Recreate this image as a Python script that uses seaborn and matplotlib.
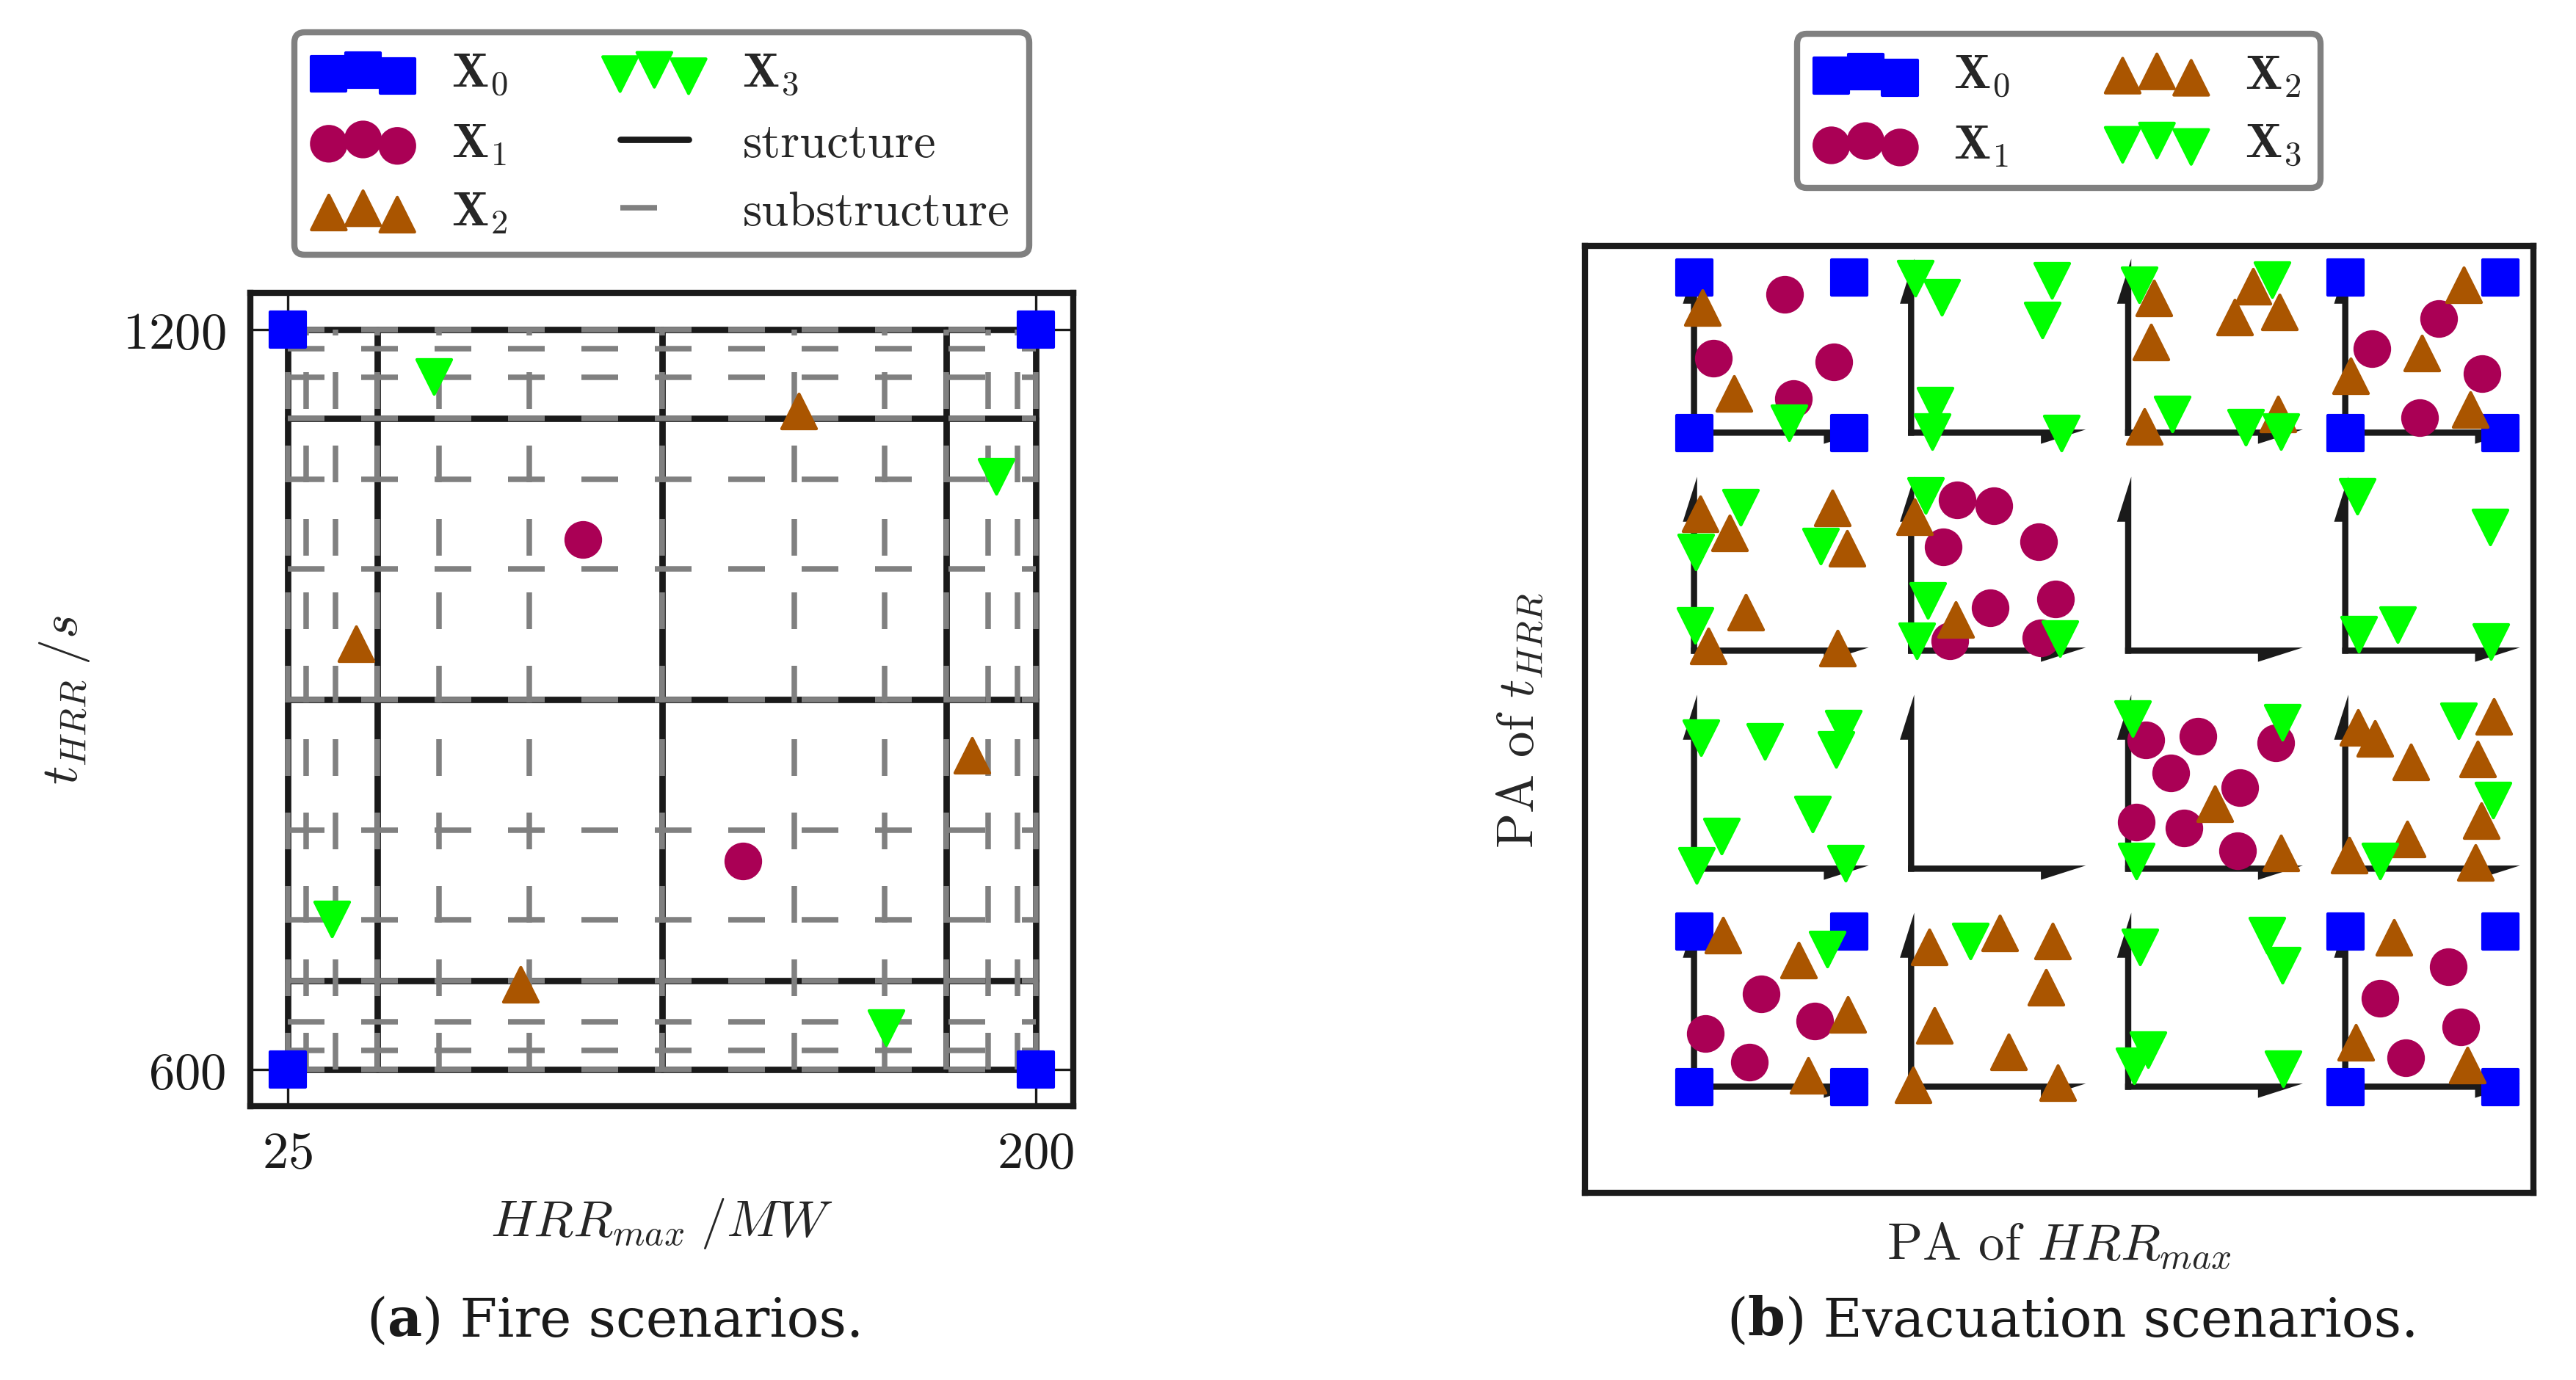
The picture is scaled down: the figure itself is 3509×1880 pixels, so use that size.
import numpy as np
import pandas as pd
import seaborn as sns
import matplotlib.pyplot as plt
from matplotlib.lines import Line2D
from matplotlib.patches import FancyArrow
from matplotlib.offsetbox import TextArea, HPacker, AnchoredOffsetbox

# ---- (a) fire scenarios ----
hrr_ticks = [25, 200]
thrr_ticks = [600, 1200]
struct_frac = [0.0, 0.12, 0.5, 0.88, 1.0]
sub_frac = [0.0, 0.025, 0.064, 0.12, 0.202, 0.323, 0.5, 0.677, 0.798, 0.88, 0.936, 0.975, 1.0]

fire_x0_hrr = [25, 25, 200, 200]
fire_x0_t = [600, 1200, 600, 1200]
fire_x1_hrr = [94.1, 131.4]
fire_x1_t = [1030, 769]
fire_x2_hrr = [144.6, 40.9, 185.0, 79.4]
fire_x2_t = [1134, 945, 855, 669]
fire_x3_hrr = [59.2, 190.8, 35.3, 165.0]
fire_x3_t = [1162, 1081, 722, 634]

# ---- (b) evacuation scenarios: (row, col, t_pre, N_tu) in each PA cell ----
ev_x0 = [(r, c, x, y) for r, c in [(0, 0), (0, 3), (3, 0), (3, 3)]
         for x, y in [(0, 0), (0, 1), (1, 0), (1, 1)]]
ev_x1 = [
    (0, 0, 0.582, 0.893), (0, 0, 0.124, 0.480), (0, 0, 0.901, 0.458), (0, 0, 0.639, 0.222),
    (0, 3, 0.171, 0.542), (0, 3, 0.601, 0.735), (0, 3, 0.884, 0.381), (0, 3, 0.479, 0.097),
    (1, 1, 0.297, 0.974), (1, 1, 0.534, 0.935), (1, 1, 0.207, 0.667), (1, 1, 0.823, 0.703),
    (1, 1, 0.930, 0.336), (1, 1, 0.510, 0.275), (1, 1, 0.249, 0.062), (1, 1, 0.835, 0.082),
    (2, 2, 0.112, 0.829), (2, 2, 0.449, 0.854), (2, 2, 0.952, 0.810), (2, 2, 0.276, 0.619),
    (2, 2, 0.721, 0.525), (2, 2, 0.053, 0.300), (2, 2, 0.357, 0.263), (2, 2, 0.707, 0.117),
    (3, 0, 0.433, 0.600), (3, 0, 0.776, 0.423), (3, 0, 0.074, 0.344), (3, 0, 0.356, 0.160),
    (3, 3, 0.665, 0.773), (3, 3, 0.221, 0.571), (3, 3, 0.743, 0.387), (3, 3, 0.388, 0.187),
]
ev_x2 = [
    (0, 0, 0.053, 0.804), (0, 0, 0.259, 0.254),
    (0, 2, 0.167, 0.867), (0, 2, 0.148, 0.583), (0, 2, 0.804, 0.942), (0, 2, 0.688, 0.744),
    (0, 2, 0.975, 0.778), (0, 2, 0.101, 0.039), (0, 2, 0.966, 0.120),
    (0, 3, 0.764, 0.951), (0, 3, 0.492, 0.512), (0, 3, 0.034, 0.368), (0, 3, 0.808, 0.148),
    (1, 0, 0.040, 0.884), (1, 0, 0.230, 0.757), (1, 0, 0.894, 0.920), (1, 0, 0.987, 0.658),
    (1, 0, 0.335, 0.249), (1, 0, 0.091, 0.032), (1, 0, 0.924, 0.019),
    (1, 1, 0.021, 0.864), (1, 1, 0.287, 0.202),
    (2, 2, 0.557, 0.419), (2, 2, 0.985, 0.104),
    (2, 3, 0.080, 0.910), (2, 3, 0.190, 0.837), (2, 3, 0.420, 0.688), (2, 3, 0.958, 0.983),
    (2, 3, 0.854, 0.706), (2, 3, 0.875, 0.310), (2, 3, 0.397, 0.192), (2, 3, 0.023, 0.090),
    (2, 3, 0.840, 0.042),
    (3, 0, 0.184, 0.975), (3, 0, 0.675, 0.817), (3, 0, 0.991, 0.467), (3, 0, 0.734, 0.075),
    (3, 1, 0.116, 0.902), (3, 1, 0.570, 0.990), (3, 1, 0.911, 0.938), (3, 1, 0.869, 0.642),
    (3, 1, 0.148, 0.396), (3, 1, 0.629, 0.225), (3, 1, 0.011, 0.012), (3, 1, 0.945, 0.027),
    (3, 3, 0.314, 0.962), (3, 3, 0.065, 0.288), (3, 3, 0.789, 0.140),
]
ev_x3 = [
    (0, 0, 0.610, 0.065),
    (0, 1, 0.027, 0.996), (0, 1, 0.196, 0.871), (0, 1, 0.909, 0.983), (0, 1, 0.848, 0.727),
    (0, 1, 0.154, 0.176), (0, 1, 0.137, 0.009), (0, 1, 0.968, 0.000),
    (0, 2, 0.068, 0.951), (0, 2, 0.928, 0.987), (0, 2, 0.283, 0.123), (0, 2, 0.755, 0.036),
    (0, 2, 0.987, 0.006),
    (1, 0, 0.298, 0.925), (1, 0, 0.011, 0.636), (1, 0, 0.818, 0.673), (1, 0, 0.006, 0.164),
    (1, 1, 0.091, 1.000), (1, 1, 0.105, 0.325), (1, 1, 0.034, 0.064), (1, 1, 0.962, 0.080),
    (1, 3, 0.076, 0.997), (1, 3, 0.935, 0.796), (1, 3, 0.084, 0.108), (1, 3, 0.338, 0.170),
    (1, 3, 0.939, 0.058),
    (2, 0, 0.042, 0.842), (2, 0, 0.458, 0.819), (2, 0, 0.962, 0.906), (2, 0, 0.914, 0.767),
    (2, 0, 0.764, 0.354), (2, 0, 0.177, 0.213), (2, 0, 0.015, 0.021), (2, 0, 0.977, 0.035),
    (2, 2, 0.029, 0.969), (2, 2, 0.992, 0.944), (2, 2, 0.051, 0.048),
    (2, 3, 0.728, 0.954), (2, 3, 0.954, 0.440), (2, 3, 0.222, 0.052),
    (3, 0, 0.859, 0.888),
    (3, 1, 0.380, 0.938),
    (3, 2, 0.076, 0.900), (3, 2, 0.895, 0.977), (3, 2, 0.994, 0.783), (3, 2, 0.129, 0.240),
    (3, 2, 0.036, 0.135), (3, 2, 1.000, 0.117),
]

labels = [r'$\mathbf{X}_0$', r'$\mathbf{X}_1$', r'$\mathbf{X}_2$', r'$\mathbf{X}_3$']
colors = ['#0000ff', '#aa0055', '#aa5500', '#00ff00']
markers = ['s', 'o', '^', 'v']
MS = 128

sns.set_theme(style='white')
plt.rcParams['font.family'] = ['cmr10', 'DejaVu Sans']
plt.rcParams['mathtext.fontset'] = 'cm'
plt.rcParams['axes.unicode_minus'] = False
plt.rcParams['axes.formatter.use_mathtext'] = True

W, H = 3509, 1881
fig = plt.figure(figsize=(W / 300, H / 300), dpi=300)


def dots(ax, x, y, k, zorder=5):
    sns.scatterplot(x=x, y=y, marker=markers[k], color=colors[k], edgecolor=colors[k],
                    s=MS, linewidth=1.0, ax=ax, zorder=zorder, clip_on=False,
                    joinstyle='round', legend=False)
    return ax.collections[-1]


# ---------------- left panel ----------------
ax = fig.add_axes([341 / W, 1 - 1508 / H, 1121 / W, 1108 / H])
for f in struct_frac:
    ax.plot([25 + 175 * f] * 2, [600, 1200], color='k', lw=2.1, zorder=2)
    ax.plot([25, 200], [600 + 600 * f] * 2, color='k', lw=2.1, zorder=2)
dash = (0, (12 / 1.8, 12 / 1.8))
for f in sub_frac:
    ax.plot([25 + 175 * f] * 2, [600, 1200], color='#808080', lw=1.8, ls=dash, zorder=3)
    ax.plot([25, 200], [600 + 600 * f] * 2, color='#808080', lw=1.8, ls=dash, zorder=3)

fire_sets = [(fire_x0_hrr, fire_x0_t), (fire_x1_hrr, fire_x1_t),
             (fire_x2_hrr, fire_x2_t), (fire_x3_hrr, fire_x3_t)]
handles = []
for k, (xs, ys) in enumerate(fire_sets):
    handles.append(dots(ax, xs, ys, k))

ax.set_xlim(16.25, 208.75)
ax.set_ylim(570, 1230)
ax.set_xticks(hrr_ticks)
ax.set_yticks(thrr_ticks)
ax.tick_params(direction='in', length=12.7, width=0.8, colors='k', labelsize=17, pad=8,
               bottom=True, left=True, top=True, right=True)
for s in ax.spines.values():
    s.set_color('k')
    s.set_linewidth(2.0)
ax.set_xlabel(r'$HRR_{max}\;/MW$', fontsize=17, labelpad=6)
ax.set_ylabel(r'$t_{HRR}\;/s$', fontsize=17, labelpad=10)

h_struct = Line2D([], [], color='k', lw=2.1)
h_sub = Line2D([], [], color='#808080', lw=1.8, ls=dash)
leg = ax.legend(handles + [h_struct, h_sub], labels + ['structure', 'substructure'],
                loc='lower center', bbox_to_anchor=(0.5, 1 + 52 / 1108), ncol=2,
                fontsize=16, frameon=True, fancybox=True, edgecolor='#808080',
                facecolor='white', framealpha=1, numpoints=2, scatterpoints=3,
                borderaxespad=0)
leg.get_frame().set_linewidth(2.0)

# ---------------- right panel ----------------
outer = fig.add_axes([2159 / W, 1 - 1626 / H, 1291.5 / W, 1290 / H])
outer.set_xticks([])
outer.set_yticks([])
for s in outer.spines.values():
    s.set_color('k')
    s.set_linewidth(2.0)
outer.set_xlabel(r'PA of $HRR_{max}$', fontsize=17, labelpad=9)
outer.set_ylabel(r'PA of $t_{HRR}$', fontsize=17, labelpad=13)

ev_sets = [pd.DataFrame(g, columns=['row', 'col', 'tpre', 'ntu'])
           for g in (ev_x0, ev_x1, ev_x2, ev_x3)]
ev_handles = []
for r in range(4):
    for c in range(4):
        sub = fig.add_axes([(2307.8 + c * 295.7) / W, 1 - (590.6 + r * 297) / H,
                            211 / W, 211.6 / H])
        sub.set_xlim(0, 1)
        sub.set_ylim(0, 1)
        sub.set_xticks([])
        sub.set_yticks([])
        sub.patch.set_alpha(0)
        for s in sub.spines.values():
            s.set_visible(False)
        sub.add_patch(FancyArrow(-0.021, 0.021, 1.148, 0, width=0.08, head_width=0.184,
                                 head_length=0.29, shape='left', length_includes_head=True,
                                 color='k', lw=0, clip_on=False, zorder=2))
        sub.add_patch(FancyArrow(0.019, -0.019, 0, 1.14, width=0.08, head_width=0.184,
                                 head_length=0.29, shape='right', length_includes_head=True,
                                 color='k', lw=0, clip_on=False, zorder=2))
        for k, df in enumerate(ev_sets):
            cell = df[(df['row'] == r) & (df['col'] == c)]
            if len(cell):
                h = dots(sub, cell['tpre'].to_numpy(), cell['ntu'].to_numpy(), k)
                if len(ev_handles) == k:
                    ev_handles.append(h)
        if c == 0:
            sub.set_ylabel(r'$N_{tu}$', fontsize=16, labelpad=11)
        if r == 3:
            sub.set_xlabel(r'$t_{pre}$', fontsize=16, labelpad=2)

leg2 = outer.legend(ev_handles, labels, loc='lower center',
                    bbox_to_anchor=(0.5, 1 + 79 / 1290), ncol=2, fontsize=16,
                    frameon=True, fancybox=True, edgecolor='#808080', facecolor='white',
                    framealpha=1, scatterpoints=3, borderaxespad=0)
leg2.get_frame().set_linewidth(2.0)


# ---------------- captions ----------------
def caption(xc, tag, rest):
    tp = dict(fontfamily='DejaVu Serif', fontsize=17.5, color='k')
    parts = [TextArea('(', textprops=tp),
             TextArea(tag, textprops=dict(tp, fontweight='bold')),
             TextArea(') ' + rest, textprops=tp)]
    box = HPacker(children=parts, align='baseline', pad=0, sep=0)
    fig.add_artist(AnchoredOffsetbox(loc='center', child=box, frameon=False, pad=0,
                                     borderpad=0, bbox_to_anchor=(xc / W, 1 - 1800 / H),
                                     bbox_transform=fig.transFigure))


caption(838, 'a', 'Fire scenarios.')
caption(2823, 'b', 'Evacuation scenarios.')

fig.savefig('out.png', dpi=300)
